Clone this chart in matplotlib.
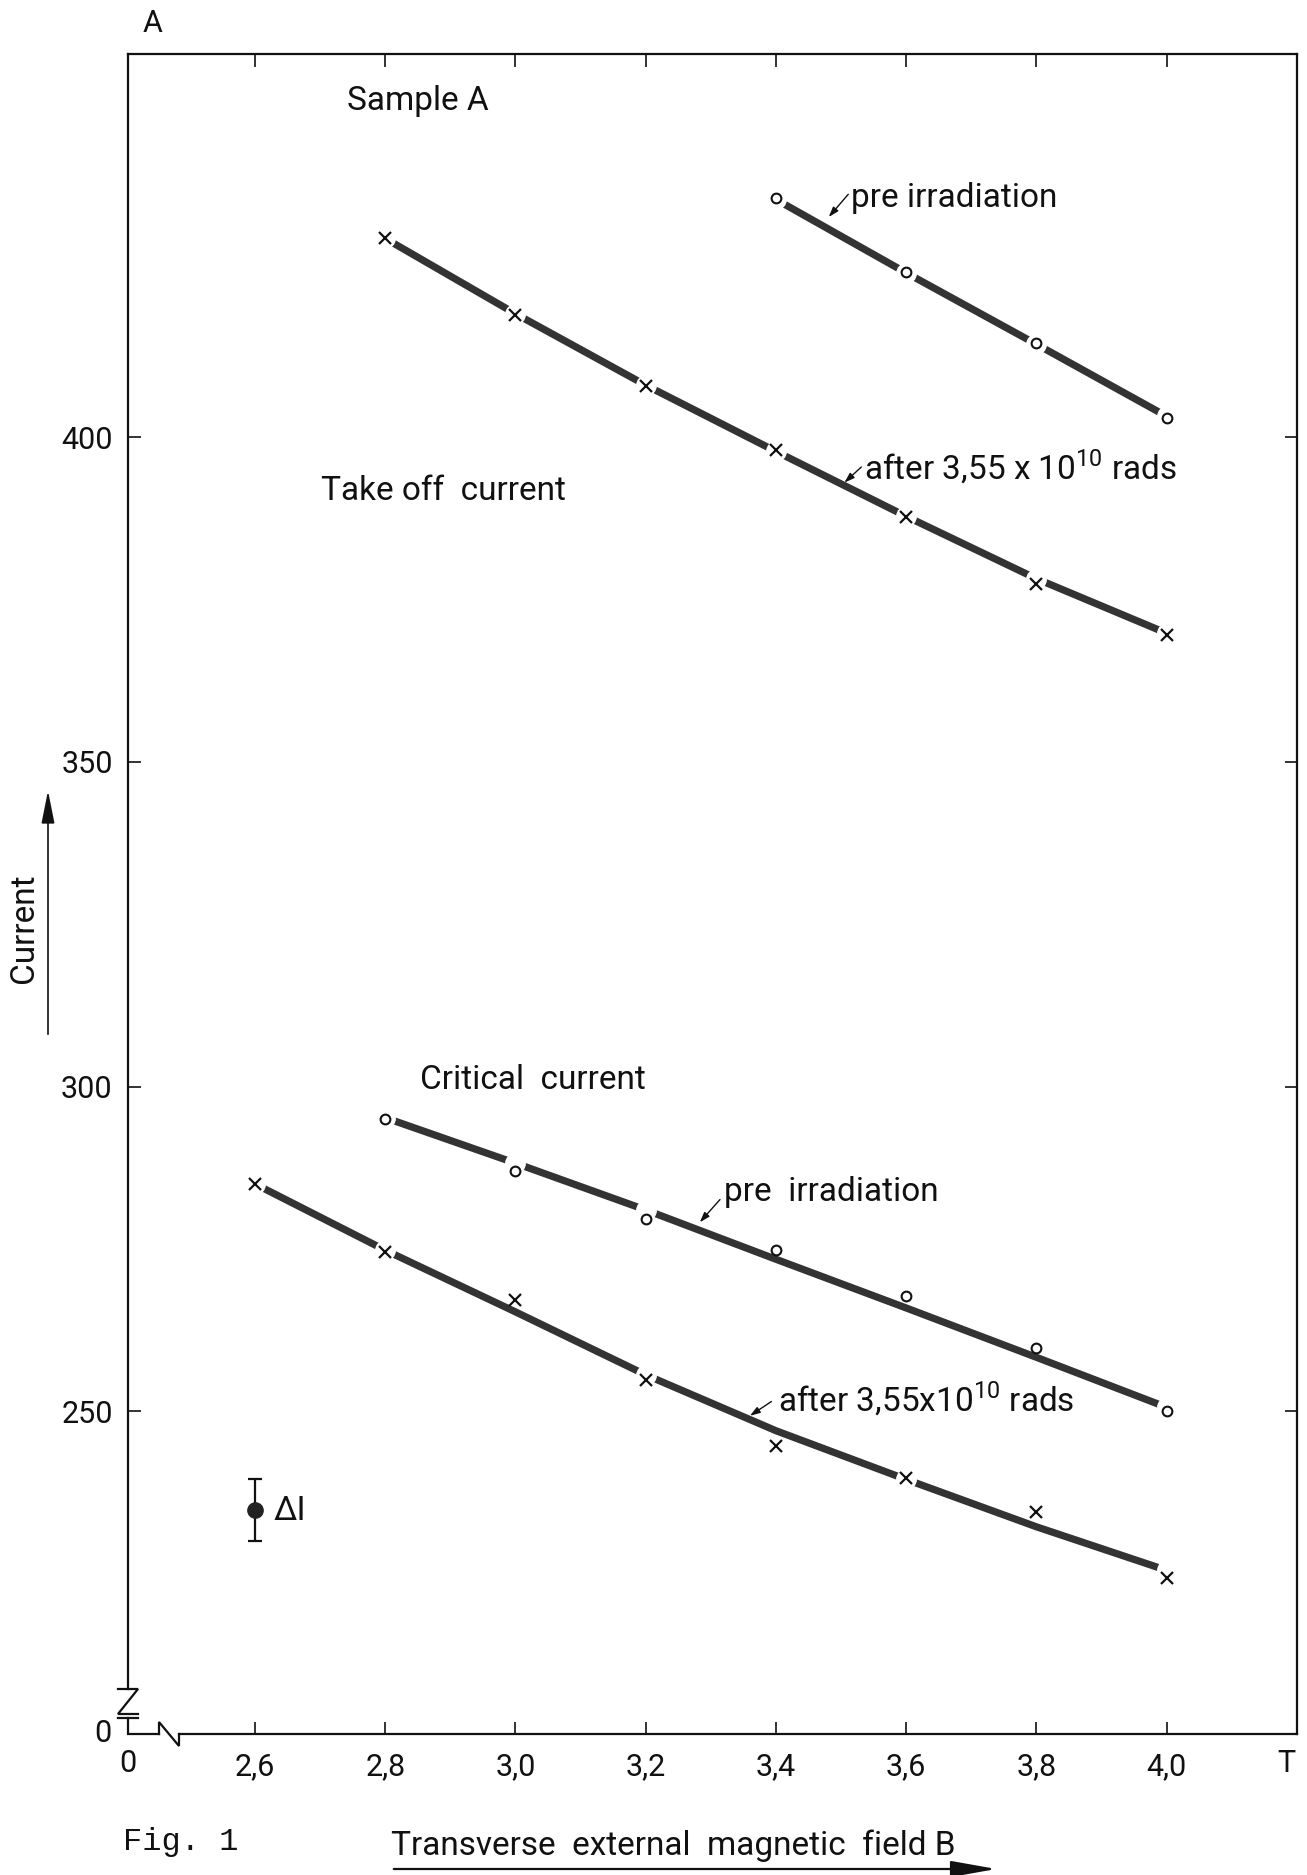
import matplotlib
matplotlib.use("Agg")
import matplotlib.pyplot as plt
from matplotlib.lines import Line2D
from matplotlib.patches import FancyArrowPatch

# measured points (field in T, current in A)
B_toc_pre = [3.4, 3.6, 3.8, 4.0]
I_toc_pre = [436.8, 425.4, 414.5, 402.9]
B_toc_irr = [2.8, 3.0, 3.2, 3.4, 3.6, 3.8, 4.0]
I_toc_irr = [430.7, 418.8, 407.8, 398.0, 387.7, 377.4, 369.6]
B_crit_pre = [2.8, 3.0, 3.2, 3.4, 3.6, 3.8, 4.0]
I_crit_pre = [295.0, 287.0, 279.6, 274.8, 267.8, 259.7, 250.0]
B_crit_irr = [2.6, 2.8, 3.0, 3.2, 3.4, 3.6, 3.8, 4.0]
I_crit_irr = [285.0, 274.5, 267.2, 254.8, 244.7, 239.7, 234.5, 224.3]

# hand drawn fit curves, read at the same fields
fit_toc_pre = [436.6, 425.3, 414.3, 403.2]
fit_toc_irr = [430.6, 419.0, 408.0, 397.8, 387.8, 378.2, 369.8]
fit_crit_pre = [295.2, 288.2, 281.0, 273.4, 265.9, 258.3, 250.6]
fit_crit_irr = [285.0, 274.8, 265.3, 255.6, 247.0, 239.5, 232.2, 225.5]

# where the drawn curve is interrupted around a point
gaps_toc_pre = [0, 1, 2, 3]
gaps_toc_irr = [0, 1, 2, 3, 4, 5, 6]
gaps_crit_pre = [0, 1, 2, 6]
gaps_crit_irr = [0, 1, 3, 5, 7]

# error bar example
err_B = 2.6
err_I = 234.8
err_dI = 4.8

x_ticks = [2.6, 2.8, 3.0, 3.2, 3.4, 3.6, 3.8, 4.0]
x_labels = ["2,6", "2,8", "3,0", "3,2", "3,4", "3,6", "3,8", "4,0"]
y_ticks = [250, 300, 350, 400]
y_labels = ["250", "300", "350", "400"]

FONT = ["Roboto", "DejaVu Sans"]
plt.rcParams["font.family"] = FONT
plt.rcParams["mathtext.fontset"] = "custom"
plt.rcParams["mathtext.rm"] = "Roboto"
INK = "#111111"
LINE = "#333333"
FS_TICK = 22
FS = 24

W_PX, H_PX = 1307, 1875
fig = plt.figure(figsize=(W_PX / 100, H_PX / 100), dpi=100)
ax_l, ax_b = 128 / W_PX, (H_PX - 1734) / H_PX
ax_w, ax_h = (1297 - 128) / W_PX, (1734 - 54) / H_PX
ax = fig.add_axes([ax_l, ax_b, ax_w, ax_h])
ax.set_xlim(2.405, 4.2)
ax.set_ylim(200.3, 459.0)
AW, AH = 1297 - 128, 1734 - 54


def draw_series(B, I, fit, gaps, marker, ms, mew):
    ax.plot(B, fit, color=LINE, lw=5.2, solid_capstyle="round", zorder=2)
    ax.plot([B[i] for i in gaps], [fit[i] for i in gaps], "o", ms=14,
            color="white", mec="white", zorder=3)
    ax.plot(B, I, marker, ms=ms, mew=mew, mfc="white", mec=INK,
            color=INK, ls="none", zorder=4)


draw_series(B_toc_pre, I_toc_pre, fit_toc_pre, gaps_toc_pre, "o", 7, 1.5)
draw_series(B_toc_irr, I_toc_irr, fit_toc_irr, gaps_toc_irr, "x", 8, 1.6)
draw_series(B_crit_pre, I_crit_pre, fit_crit_pre, gaps_crit_pre, "o", 7, 1.5)
draw_series(B_crit_irr, I_crit_irr, fit_crit_irr, gaps_crit_irr, "x", 8, 1.6)

ax.errorbar([err_B], [err_I], yerr=[err_dI], fmt="o", ms=11, color="#222222",
            ecolor=INK, elinewidth=1.6, capsize=5, capthick=1.6, zorder=4)

# ticks on all four sides, pointing inwards
ax.set_xticks(x_ticks)
ax.set_xticklabels(x_labels)
ax.set_yticks(y_ticks)
ax.set_yticklabels(y_labels)
ax.tick_params(direction="in", length=9, width=1.2, colors=INK,
               labelsize=FS_TICK, top=True, right=True, pad=11)
ax.tick_params(axis="x", pad=13)
for s in ax.spines.values():
    s.set_linewidth(1.6)
    s.set_color(INK)

# axis breaks near the origin
ax.spines["left"].set_bounds(200.3 + 45 / 6.5, 459.0)
ax.spines["bottom"].set_bounds(2.405 + 51 / 651, 4.2)


def seg(pts):
    xs = [p[0] / AW for p in pts]
    ys = [p[1] / AH for p in pts]
    ax.add_line(Line2D(xs, ys, transform=ax.transAxes, color=INK, lw=1.6,
                       clip_on=False, solid_joinstyle="miter"))


seg([(-10, 45), (10, 45), (-10, 20), (10, 20)])
seg([(-10, 16), (10, 16)])
seg([(0, 16), (0, 0), (31, 0)])
seg([(31, 0), (31, 12), (51, -12), (51, 0)])

# extra axis labels
ax.text(-17 / AW, 0, "0", transform=ax.transAxes, ha="right", va="center",
        fontsize=FS_TICK, color=INK, clip_on=False)
ax.text(0, -30 / AH, "0", transform=ax.transAxes, ha="center", va="center",
        fontsize=FS_TICK, color=INK, clip_on=False)
ax.text(1 - 11 / AW, -30 / AH, "T", transform=ax.transAxes, ha="center",
        va="center", fontsize=FS_TICK, color=INK, clip_on=False)
ax.text(25 / AW, 1 + 30 / AH, "A", transform=ax.transAxes, ha="center",
        va="center", fontsize=FS_TICK, color=INK, clip_on=False)

# annotations
txt = dict(fontsize=FS, color=INK, va="center", ha="left")
ax.text(2.741, 451.7, "Sample A", **txt)
ax.text(2.701, 391.7, "Take off  current", **txt)
ax.text(2.853, 301.0, "Critical  current", **txt)
ax.text(3.515, 436.8, "pre irradiation", **txt)
ax.text(3.320, 283.7, "pre  irradiation", **txt)
ax.text(3.535, 395.4, r"after 3,55 x 10$^{10}$ rads", **txt)
ax.text(3.403, 251.8, r"after 3,55x10$^{10}$ rads", **txt)
ax.text(2.629, 234.7, "ΔI", **txt)

arrows = [((3.511, 437.4), (3.481, 433.9)),
          ((3.531, 395.4), (3.505, 393.0)),
          ((3.314, 282.6), (3.283, 279.1)),
          ((3.393, 251.5), (3.360, 249.3))]
for tail, head in arrows:
    ax.annotate("", xy=head, xytext=tail,
                arrowprops=dict(arrowstyle="-|>,head_length=0.6,head_width=0.2",
                                color=INK, lw=1.0, shrinkA=0, shrinkB=0))

# y axis title with arrow
fig.text(24 / W_PX, 1 - 928 / H_PX, "Current", rotation=90, ha="center",
         va="center", fontsize=FS, color=INK)
fig.add_artist(FancyArrowPatch((48 / W_PX, 1 - 1037 / H_PX),
                               (48 / W_PX, 1 - 788 / H_PX),
                               transform=fig.transFigure,
                               arrowstyle="-|>,head_length=1.0,head_width=0.2",
                               color=INK, lw=1.2, mutation_scale=20))

# x axis title with arrow
fig.text(391 / W_PX, 1 - 1846 / H_PX, "Transverse  external  magnetic  field B",
         ha="left", va="center", fontsize=FS, color=INK)
fig.add_artist(FancyArrowPatch((391 / W_PX, 1 - 1869 / H_PX),
                               (999 / W_PX, 1 - 1869 / H_PX),
                               transform=fig.transFigure,
                               arrowstyle="-|>,head_length=1.4,head_width=0.25",
                               color=INK, lw=1.6, mutation_scale=20))

fig.text(123 / W_PX, 1 - 1842 / H_PX, "Fig. 1", ha="left", va="center",
         fontsize=23, color=INK, family="Liberation Mono")

fig.savefig("out.png", dpi=100, facecolor="white")
